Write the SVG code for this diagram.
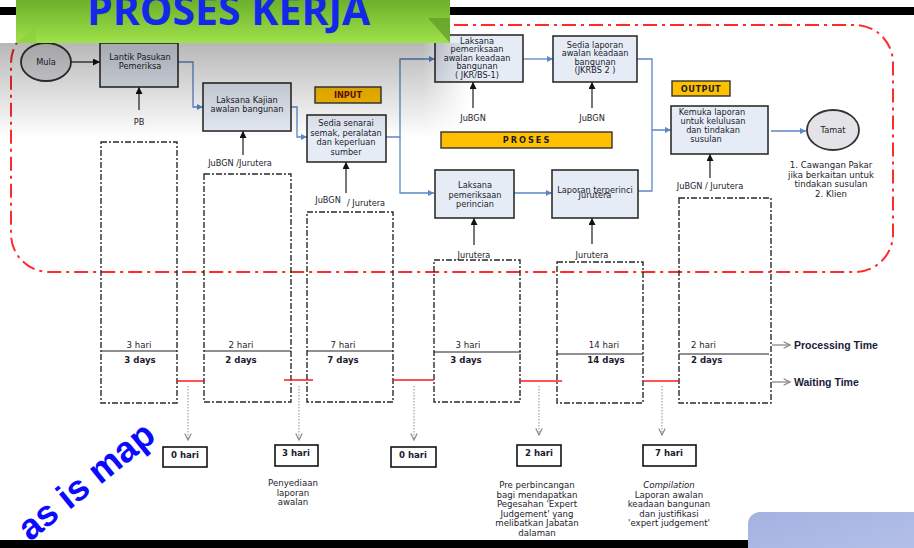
<svg xmlns="http://www.w3.org/2000/svg" width="914" height="548" viewBox="0 0 914 548">
<style>
.t{font-family:"DejaVu Sans","Liberation Sans",sans-serif;font-size:8.2px;fill:#1c1c2c;text-anchor:middle}
.l{font-family:"DejaVu Sans","Liberation Sans",sans-serif;font-size:8.6px;fill:#1c1c2c;text-anchor:middle}
.b{font-weight:bold}
.box{fill:#e6ecf6;stroke:#2e2e2e;stroke-width:1.6}
.lab{fill:#ffc000;stroke:#333;stroke-width:1.4}
.tb{fill:none;stroke:#2a2a2a;stroke-width:1.4;stroke-dasharray:6 2 2 2}
.div{stroke:#222;stroke-width:1.2}
.red{stroke:#ff1a1a;stroke-width:1.5}
.wb{fill:#fff;stroke:#111;stroke-width:1.6}
.blue{fill:none;stroke:#5b86c8;stroke-width:1.3}
.inp{stroke:#777;stroke-width:2}
.dot{stroke:#aaa;stroke-width:1.3;stroke-dasharray:1.5 1.5}
</style>
<defs>
<marker id="ab" viewBox="0 0 10 10" refX="10" refY="5" markerWidth="7" markerHeight="6" markerUnits="userSpaceOnUse" orient="auto"><path d="M0,0 L10,5 L0,10 z" fill="#5b86c8"/></marker>
<marker id="ak" viewBox="0 0 10 10" refX="10" refY="5" markerWidth="7" markerHeight="7" markerUnits="userSpaceOnUse" orient="auto"><path d="M0,0 L10,5 L0,10 z" fill="#111"/></marker>
<marker id="ao" viewBox="0 0 10 10" refX="9" refY="5" markerWidth="8" markerHeight="8" markerUnits="userSpaceOnUse" orient="auto"><path d="M1,1 L9,5 L1,9" fill="none" stroke="#888" stroke-width="1.5"/></marker>
<linearGradient id="gGreen" x1="0" y1="0" x2="0" y2="1"><stop offset="0" stop-color="#6cb02c"/><stop offset="1" stop-color="#9fe24a"/></linearGradient>
<linearGradient id="gShadow" x1="0" y1="0" x2="0" y2="1"><stop offset="0" stop-color="#000" stop-opacity="0.28"/><stop offset="1" stop-color="#000" stop-opacity="0"/></linearGradient>
<linearGradient id="gShadowH" x1="0" y1="0" x2="1" y2="0"><stop offset="0" stop-color="#fff" stop-opacity="1"/><stop offset="0.9" stop-color="#fff" stop-opacity="1"/><stop offset="1" stop-color="#fff" stop-opacity="0"/></linearGradient>
<mask id="mShadow"><rect x="0" y="43" width="470" height="100" fill="url(#gShadowH)"/></mask>
<linearGradient id="gBlue" x1="0" y1="0" x2="1" y2="1"><stop offset="0" stop-color="#a4b2e0"/><stop offset="1" stop-color="#b6c2ea"/></linearGradient>
</defs>
<rect x="0" y="0" width="914" height="548" fill="#fff"/>
<rect x="0" y="7" width="914" height="8" fill="#000"/>
<rect x="11" y="25" width="882" height="247" rx="38" fill="none" stroke="#ff2a2a" stroke-width="2" stroke-dasharray="14 5 3 5"/>

<g id="timeboxes">
<rect class="tb" x="101" y="142" width="76" height="261"/>
<line class="div" x1="101" y1="351" x2="177" y2="351"/>
<text class="l" x="139" y="348">3 hari</text><text class="l b" x="140" y="363">3 days</text>
<rect class="tb" x="204" y="174" width="87" height="228"/>
<line class="div" x1="204" y1="351" x2="291" y2="351"/>
<text class="l" x="241" y="348">2 hari</text><text class="l b" x="241" y="363">2 days</text>
<rect class="tb" x="307" y="212" width="86" height="190"/>
<line class="div" x1="307" y1="351" x2="393" y2="351"/>
<text class="l" x="343" y="348">7 hari</text><text class="l b" x="343" y="363">7 days</text>
<rect class="tb" x="434" y="260" width="86" height="142"/>
<line class="div" x1="434" y1="352" x2="521" y2="352"/>
<text class="l" x="468" y="348">3 hari</text><text class="l b" x="466" y="363">3 days</text>
<rect class="tb" x="557" y="262" width="86" height="141"/>
<line class="div" x1="557" y1="354" x2="643" y2="354"/>
<text class="l" x="604" y="348">14 hari</text><text class="l b" x="606" y="363">14 days</text>
<rect class="tb" x="679" y="198" width="92" height="205"/>
<line class="div" x1="679" y1="354" x2="769" y2="354"/>
<text class="l" x="691" y="348" style="text-anchor:start">2 hari</text><text class="l b" x="691" y="363" style="text-anchor:start">2 days</text>
</g>

<g id="connectors">
<path d="M71,62 H100" stroke="#111" stroke-width="1.2" fill="none" marker-end="url(#ak)"/>
<path class="blue" d="M178,62 H193 V107 H203" marker-end="url(#ab)"/>
<path class="blue" d="M291,107 H297 V137 H307" marker-end="url(#ab)"/>
<path class="blue" d="M386,137 H400 V59 H435" marker-end="url(#ab)"/>
<path class="blue" d="M400,137 V193 H434" marker-end="url(#ab)"/>
<path class="blue" d="M523,59 H553" marker-end="url(#ab)"/>
<path class="blue" d="M637,59 H652 V130 H671" marker-end="url(#ab)"/>
<path class="blue" d="M514,193 H552" marker-end="url(#ab)"/>
<path class="blue" d="M638,191 H652 V130"/>
<path class="blue" d="M771,131 H806" marker-end="url(#ab)"/>
<line class="inp" x1="139" y1="110" x2="139" y2="87" marker-end="url(#ak)"/>
<line class="inp" x1="243" y1="155" x2="243" y2="131" marker-end="url(#ak)"/>
<line class="inp" x1="346" y1="193" x2="346" y2="162" marker-end="url(#ak)"/>
<line class="inp" x1="473" y1="108" x2="473" y2="82" marker-end="url(#ak)"/>
<line class="inp" x1="592" y1="108" x2="592" y2="82" marker-end="url(#ak)"/>
<line class="inp" x1="474" y1="245" x2="474" y2="218" stroke="#222" marker-end="url(#ak)"/>
<line class="inp" x1="592" y1="244" x2="592" y2="218" marker-end="url(#ak)"/>
<line class="inp" x1="710" y1="178" x2="710" y2="154" marker-end="url(#ak)"/>
<line class="red" x1="177" y1="381" x2="205" y2="381"/>
<line class="red" x1="284" y1="380" x2="313" y2="380"/>
<line class="red" x1="393" y1="380" x2="434" y2="380"/>
<line class="red" x1="520" y1="381" x2="562" y2="381"/>
<line class="red" x1="643" y1="381" x2="679" y2="381"/>
<line class="dot" x1="188" y1="386" x2="188" y2="440" marker-end="url(#ao)"/>
<line class="dot" x1="299" y1="386" x2="299" y2="440" marker-end="url(#ao)"/>
<line class="dot" x1="414" y1="386" x2="414" y2="440" marker-end="url(#ao)"/>
<line class="dot" x1="539" y1="386" x2="539" y2="435" marker-end="url(#ao)"/>
<line class="dot" x1="662" y1="386" x2="662" y2="435" marker-end="url(#ao)"/>
<line x1="772" y1="345" x2="790" y2="345" stroke="#888" stroke-width="1.3" marker-end="url(#ao)"/>
<line x1="772" y1="382" x2="790" y2="382" stroke="#888" stroke-width="1.3" marker-end="url(#ao)"/>
</g>

<g id="mula"><ellipse cx="46" cy="62" rx="25" ry="19" fill="#e4e4e8" stroke="#333" stroke-width="1.8"/><text class="t" x="46" y="65">Mula</text></g>
<g id="lantik"><rect class="box" x="100" y="43" width="78" height="44"/><text class="t" x="140" y="60">Lantik Pasukan</text><text class="t" x="140" y="69">Pemeriksa</text><text class="t" x="139" y="125">PB</text></g>
<g id="kajian"><rect class="box" x="203" y="83" width="88" height="48"/><text class="t" x="247" y="103">Laksana Kajian</text><text class="t" x="247" y="112">awalan bangunan</text><text class="t" x="240" y="166">JuBGN  /Jurutera</text></g>
<g id="input"><rect class="lab" x="315" y="87" width="66" height="16"/><text class="t b" x="348" y="98" style="fill:#6b1010">INPUT</text></g>
<g id="senarai"><rect class="box" x="307" y="115" width="79" height="47"/><text class="t" x="346" y="126">Sedia senarai</text><text class="t" x="346" y="135.5">semak, peralatan</text><text class="t" x="346" y="145">dan keperluan</text><text class="t" x="346" y="154.5">sumber</text><text class="t" x="328" y="203">JuBGN</text><text class="t" x="366" y="206">/ Jurutera</text></g>
<g id="awalan"><rect class="box" x="435" y="35" width="88" height="47"/><text class="t" x="477" y="43.5">Laksana</text><text class="t" x="477" y="52">pemeriksaan</text><text class="t" x="477" y="60.5">awalan keadaan</text><text class="t" x="477" y="69">bangunan</text><text class="t" x="477" y="78">( JKR/BS-1)</text><text class="t" x="473" y="121">JuBGN</text></g>
<g id="sedialaporan"><rect class="box" x="553" y="36" width="84" height="46"/><text class="t" x="595" y="47.5">Sedia laporan</text><text class="t" x="595" y="56">awalan keadaan</text><text class="t" x="595" y="64.5">bangunan</text><text class="t" x="595" y="73">(JKRBS 2 )</text><text class="t" x="592" y="121">JuBGN</text></g>
<g id="proses"><rect class="lab" x="441" y="132" width="171" height="16"/><text class="t b" x="527" y="143" style="letter-spacing:2px">PROSES</text></g>
<g id="output"><rect class="lab" x="672" y="81" width="58" height="15"/><text class="t b" x="701" y="91.5" style="letter-spacing:0.5px">OUTPUT</text></g>
<g id="kemuka"><rect class="box" x="671" y="106" width="97" height="48"/><text class="t" x="712" y="115">Kemuka laporan</text><text class="t" x="713" y="123.5">untuk kelulusan</text><text class="t" x="713" y="133">dan tindakan</text><text class="t" x="706" y="141.5">susulan</text><text class="t" x="710" y="189">JuBGN / Jurutera</text></g>
<g id="tamat"><ellipse cx="833" cy="130" rx="26" ry="20" fill="#e4e4e8" stroke="#333" stroke-width="1.8"/><text class="t" x="833" y="133">Tamat</text>
<text class="l" x="831" y="168">1. Cawangan Pakar</text><text class="l" x="831" y="177.5">jika berkaitan untuk</text><text class="l" x="831" y="187">tindakan susulan</text><text class="l" x="831" y="196.5">2. Klien</text></g>
<g id="perincian"><rect class="box" x="435" y="170" width="79" height="48"/><text class="t" x="475" y="188">Laksana</text><text class="t" x="475" y="197.5">pemeriksaan</text><text class="t" x="475" y="207">perincian</text><text class="t" x="474" y="258">Jurutera</text></g>
<g id="terperinci"><rect class="box" x="552" y="170" width="86" height="48"/><text class="t" x="595" y="193">Laporan terperinci</text><text class="t" x="595" y="198">Jurutera</text><text class="t" x="592" y="258">Jurutera</text></g>

<g id="waiting">
<rect class="wb" x="163" y="447" width="44" height="20"/><text class="l b" x="185" y="458">0 hari</text>
<rect class="wb" x="275" y="445" width="43" height="21"/><text class="l b" x="296" y="456">3 hari</text>
<rect class="wb" x="391" y="447" width="45" height="20"/><text class="l b" x="413" y="458">0 hari</text>
<rect class="wb" x="517" y="445" width="44" height="21"/><text class="l b" x="539" y="456">2 hari</text>
<rect class="wb" x="643" y="445" width="53" height="21"/><text class="l b" x="669" y="456">7 hari</text>
<text class="l" x="293" y="486">Penyediaan</text><text class="l" x="293" y="495.5">laporan</text><text class="l" x="293" y="505">awalan</text>
<text class="l" x="537" y="488">Pre perbincangan</text><text class="l" x="537" y="497.5">bagi mendapatkan</text><text class="l" x="537" y="507">Pegesahan 'Expert</text><text class="l" x="537" y="516.5">Judgement' yang</text><text class="l" x="537" y="526">melibatkan Jabatan</text><text class="l" x="537" y="535.5">dalaman</text>
<text class="l" x="669" y="488" style="font-style:italic">Compilation</text><text class="l" x="669" y="497.5">Laporan awalan</text><text class="l" x="669" y="507">keadaan bangunan</text><text class="l" x="669" y="516.5">dan justifikasi</text><text class="l" x="669" y="526">'expert judgement'</text>
</g>
<g id="legend">
<text x="794" y="349" font-family="Liberation Sans, Arial, sans-serif" font-size="10.5" font-weight="bold" fill="#1b1b3b">Processing Time</text>
<text x="794" y="386" font-family="Liberation Sans, Arial, sans-serif" font-size="10.5" font-weight="bold" fill="#1b1b3b">Waiting Time</text>
</g>

<g id="banner">
<rect x="0" y="43" width="470" height="95" fill="url(#gShadow)" mask="url(#mShadow)"/>
<rect x="16" y="0" width="434" height="43" fill="url(#gGreen)"/>
<polygon points="428,18 450,18 450,43" fill="#5f9a2a" opacity="0.7"/>
<polygon points="16,43 36,26 36,43" fill="#8ccf40" opacity="0.6"/>
<text x="87" y="25" font-family="Open Sans, Liberation Sans, sans-serif" font-size="41" font-weight="bold" fill="#1428e8">PROSES KERJA</text>
</g>
<rect x="0" y="540" width="760" height="8" fill="#000"/>
<rect x="748" y="512" width="180" height="50" rx="12" fill="url(#gBlue)"/>
<text x="30" y="542" transform="rotate(-39 30 542)" font-family="Liberation Sans, Arial, sans-serif" font-size="36" font-weight="bold" fill="#0a0aff">as is map</text>
</svg>
